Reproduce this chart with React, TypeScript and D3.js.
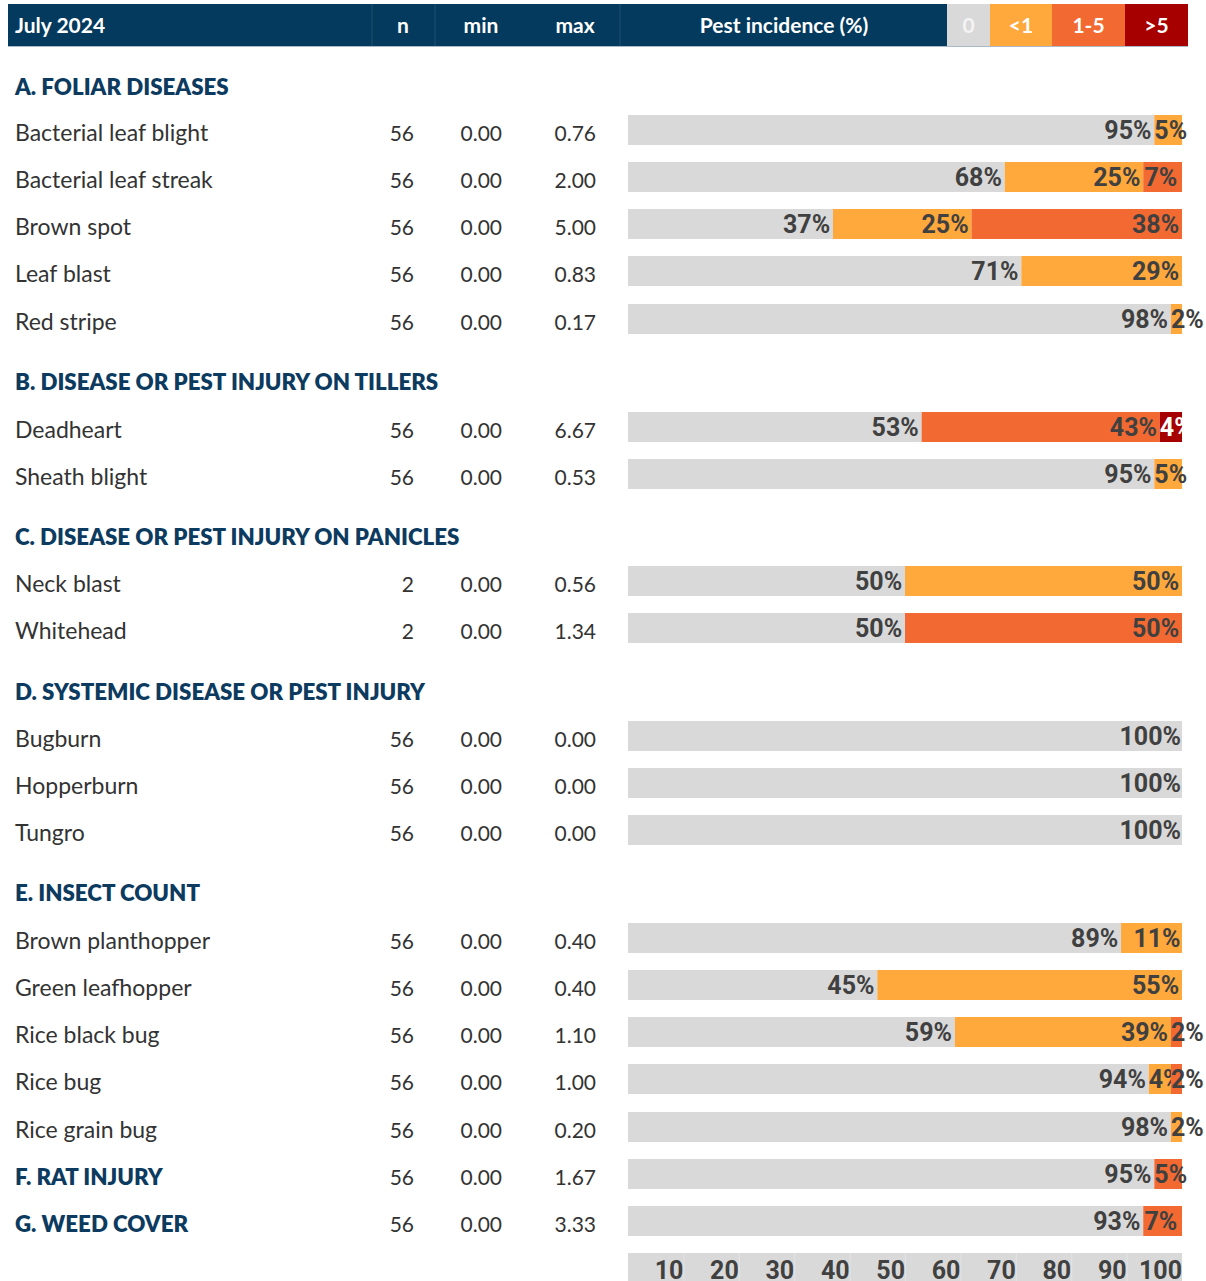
import React from "react";
import * as d3 from "d3";

const categories = ["0", "<1", "1-5", ">5"];
const catColors = ["#d9d9d9", "#ffa83b", "#f26a32", "#a60000"];

const rowLabels = [
  "A. FOLIAR DISEASES", "Bacterial leaf blight", "Bacterial leaf streak", "Brown spot", "Leaf blast", "Red stripe",
  "B. DISEASE OR PEST INJURY ON TILLERS", "Deadheart", "Sheath blight",
  "C. DISEASE OR PEST INJURY ON PANICLES", "Neck blast", "Whitehead",
  "D. SYSTEMIC DISEASE OR PEST INJURY", "Bugburn", "Hopperburn", "Tungro",
  "E. INSECT COUNT", "Brown planthopper", "Green leafhopper", "Rice black bug", "Rice bug", "Rice grain bug",
  "F. RAT INJURY", "G. WEED COVER",
];
const rowKinds = [
  "section", "item", "item", "item", "item", "item",
  "section", "item", "item",
  "section", "item", "item",
  "section", "item", "item", "item",
  "section", "item", "item", "item", "item", "item",
  "sectionItem", "sectionItem",
];
const nValues = [null, 56, 56, 56, 56, 56, null, 56, 56, null, 2, 2, null, 56, 56, 56, null, 56, 56, 56, 56, 56, 56, 56];
const minValues = [null, "0.00", "0.00", "0.00", "0.00", "0.00", null, "0.00", "0.00", null, "0.00", "0.00", null, "0.00", "0.00", "0.00", null, "0.00", "0.00", "0.00", "0.00", "0.00", "0.00", "0.00"];
const maxValues = [null, "0.76", "2.00", "5.00", "0.83", "0.17", null, "6.67", "0.53", null, "0.56", "1.34", null, "0.00", "0.00", "0.00", null, "0.40", "0.40", "1.10", "1.00", "0.20", "1.67", "3.33"];
// percentages per category [0, <1, 1-5, >5]
const pctValues: (number[] | null)[] = [
  null, [95, 5, 0, 0], [68, 25, 7, 0], [37, 25, 38, 0], [71, 29, 0, 0], [98, 2, 0, 0],
  null, [53, 0, 43, 4], [95, 5, 0, 0],
  null, [50, 50, 0, 0], [50, 0, 50, 0],
  null, [100, 0, 0, 0], [100, 0, 0, 0], [100, 0, 0, 0],
  null, [89, 11, 0, 0], [45, 55, 0, 0], [59, 39, 2, 0], [94, 4, 2, 0], [98, 2, 0, 0],
  [95, 0, 5, 0], [93, 0, 7, 0],
];
const axisTicks = [10, 20, 30, 40, 50, 60, 70, 80, 90, 100];

const rowCenters = [87, 130, 177, 224, 271, 319, 382, 427, 474, 537, 581, 628, 692, 736, 783, 830, 893, 938, 985, 1032, 1079, 1127, 1174, 1221];

const NAVY = "#033a5e";
const TEXT = "#333333";
const LABEL = "#404040";
const PCT_FONT = "'Liberation Sans Narrow', 'Arial Narrow', 'Roboto', sans-serif";
const MAIN_FONT = "Lato, 'Open Sans', sans-serif";

let measureCtx: CanvasRenderingContext2D | null = null;
function textWidth(t: string, font: string) {
  if (!measureCtx) measureCtx = document.createElement("canvas").getContext("2d");
  if (!measureCtx) return t.length * 12;
  measureCtx.font = font;
  return measureCtx.measureText(t).width;
}

export default function App() {
  const x = d3.scaleLinear().domain([0, 100]).range([628, 1182]);
  const barH = 30;
  const pctFontSize = 25;
  const pctFontCss = `bold ${pctFontSize}px 'Liberation Sans Narrow'`;

  const legendX = [947, 990, 1052, 1125, 1188];

  return (
    <svg width={1206} height={1281} style={{ position: "absolute", left: 0, top: 0 }} fontFamily={MAIN_FONT}>
      <rect width={1206} height={1281} fill="#ffffff" />
      {/* header */}
      <rect x={8} y={4} width={939} height={42} fill={NAVY} />
      <line x1={8} x2={1188} y1={46.5} y2={46.5} stroke="#a9b8c6" strokeWidth={1} />
      {[372, 435, 620].map((lx) => (
        <line key={lx} x1={lx} x2={lx} y1={4} y2={46} stroke="#1f5073" strokeWidth={1} />
      ))}
      <g fill="#ffffff" fontWeight={700} fontSize={21}>
        <text x={15} y={33}>July 2024</text>
        <text x={403} y={33} textAnchor="middle">n</text>
        <text x={481} y={33} textAnchor="middle">min</text>
        <text x={575} y={33} textAnchor="middle">max</text>
        <text x={784} y={33} textAnchor="middle">Pest incidence (%)</text>
      </g>
      {categories.map((c, i) => (
        <g key={c}>
          <rect x={legendX[i]} y={4} width={legendX[i + 1] - legendX[i]} height={42} fill={catColors[i]} />
          <text x={(legendX[i] + legendX[i + 1]) / 2} y={33} textAnchor="middle" fill={i === 0 ? "#f4f4f4" : "#ffffff"} fontWeight={700} fontSize={21}>{c}</text>
        </g>
      ))}

      {rowLabels.map((label, r) => {
        const yc = rowCenters[r];
        const kind = rowKinds[r];
        const pct = pctValues[r];
        const isSection = kind !== "item";
        const segs: JSX.Element[] = [];
        if (pct) {
          let acc = 0;
          pct.forEach((v, i) => {
            if (v <= 0) return;
            const x0 = x(acc);
            const x1 = x(acc + v);
            acc += v;
            const t = `${v}%`;
            const w = textWidth(t, pctFontCss);
            const tx = Math.max(x0, x1 - w);
            segs.push(
              <g key={i}>
                <rect x={x0} y={yc - barH / 2} width={x1 - x0} height={barH} fill={catColors[i]} />
                <text x={tx} y={yc + 9} fontFamily={PCT_FONT} fontWeight={700} fontSize={pctFontSize} fill={i === 3 ? "#ffffff" : LABEL}>{t}</text>
              </g>
            );
          });
        }
        const labelY = kind === "section" ? yc + 8 : yc + 11;
        return (
          <g key={r}>
            <text x={15} y={labelY} fontSize={isSection ? 22.3 : 23} fontWeight={isSection ? 800 : 400} fill={isSection ? "#0c3b5f" : TEXT}>{label}</text>
            {nValues[r] !== null && (
              <g fontSize={21} fill={TEXT}>
                <text x={414} y={yc + 11} textAnchor="end">{nValues[r]}</text>
                <text x={502} y={yc + 11} textAnchor="end">{minValues[r]}</text>
                <text x={596} y={yc + 11} textAnchor="end">{maxValues[r]}</text>
              </g>
            )}
            {segs}
          </g>
        );
      })}

      {/* axis */}
      <rect x={x(0)} y={1253} width={x(100) - x(0)} height={28} fill="#d9d9d9" />
      {axisTicks.map((t) => (
        <g key={t}>
          {t < 100 && <line x1={x(t) + 0.5} x2={x(t) + 0.5} y1={1253} y2={1281} stroke="#e4e4e4" strokeWidth={1} />}
          <text x={x(t)} y={1279} textAnchor="end" fontFamily={PCT_FONT} fontWeight={700} fontSize={pctFontSize} fill={LABEL}>{t}</text>
        </g>
      ))}
    </svg>
  );
}
